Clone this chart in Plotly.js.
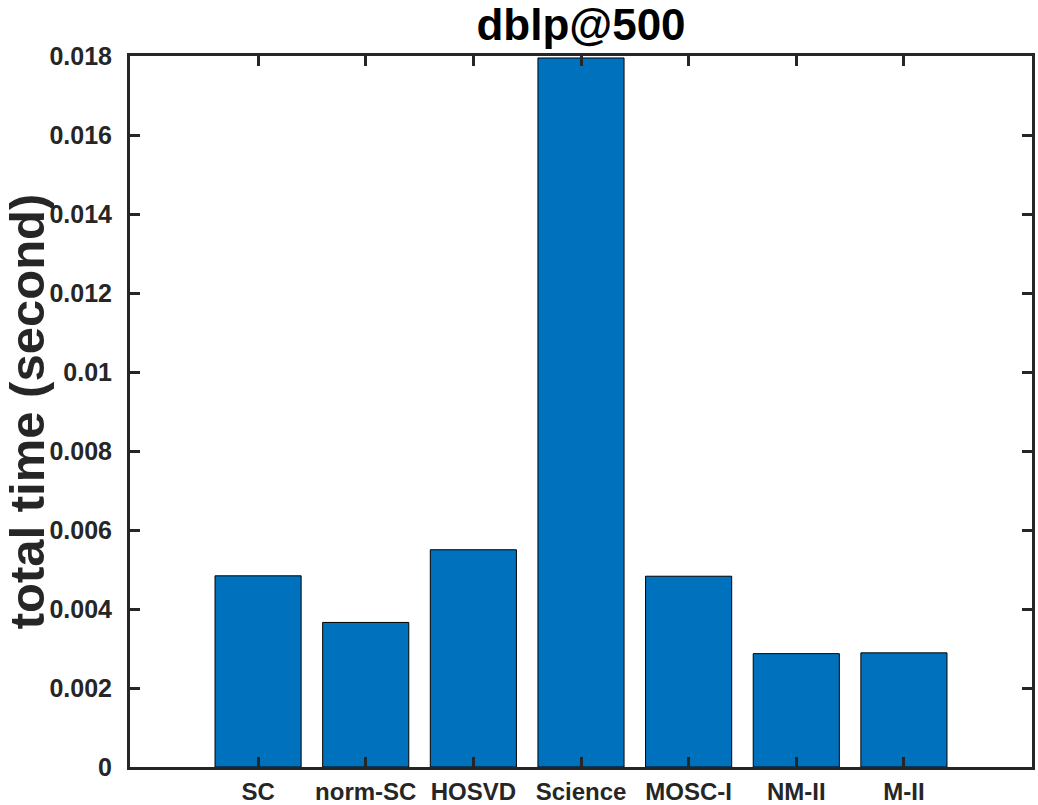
<!DOCTYPE html>
<html>
<head>
<meta charset="utf-8">
<script src="https://cdn.plot.ly/plotly-3.0.1.min.js"></script>
<style>html,body{margin:0;padding:0;background:#fff;}#chart{width:1038px;height:805px;}</style>
</head>
<body>
<div id="chart"></div>
<script>
const categories = ["SC", "norm-SC", "HOSVD", "Science", "MOSC-I", "NM-II", "M-II"];
const totalTime = [0.00484, 0.00366, 0.00550, 0.01795, 0.00483, 0.00287, 0.00289];
const yTickVals = [0, 0.002, 0.004, 0.006, 0.008, 0.01, 0.012, 0.014, 0.016, 0.018];
const yTickText = ["0", "0.002", "0.004", "0.006", "0.008", "0.01", "0.012", "0.014", "0.016", "0.018"];

const FONT = "Liberation Sans, Arial, Helvetica, sans-serif";
const AX = "#262626";

const trace = {
  type: "bar",
  x: categories,
  y: totalTime,
  width: 0.8,
  marker: {color: "#0072BD", line: {color: "#000000", width: 1}},
  hoverinfo: "x+y"
};

const layout = {
  width: 1038, height: 805,
  margin: {l: 130, r: 6, t: 56, b: 38, pad: 0},
  paper_bgcolor: "#ffffff",
  plot_bgcolor: "#ffffff",
  showlegend: false,
  font: {family: FONT, color: AX},
  title: {
    text: "<b>dblp@500</b>",
    font: {family: FONT, size: 44, color: "#000000"},
    xref: "paper", x: 0.5, xanchor: "center",
    yref: "container", y: 1 - 25/805, yanchor: "middle"
  },
  xaxis: {
    type: "category",
    range: [-1.19, 7.19],
    showline: true, linecolor: AX, linewidth: 3, mirror: "ticks",
    ticks: "inside", ticklen: 10, tickwidth: 3, tickcolor: AX,
    showgrid: false, zeroline: false,
    tickfont: {family: FONT, size: 24, color: AX, weight: "bold"},
    ticklabelstandoff: 1
  },
  yaxis: {
    range: [0, 0.018],
    tickmode: "array", tickvals: yTickVals, ticktext: yTickText,
    showline: true, linecolor: AX, linewidth: 3, mirror: "ticks",
    ticks: "inside", ticklen: 10, tickwidth: 3, tickcolor: AX,
    showgrid: false, zeroline: false,
    tickfont: {family: FONT, size: 25, color: AX, weight: "bold"},
    ticklabelstandoff: 10,
    title: {text: "<b>total time (second)</b>", font: {family: FONT, size: 49, color: AX}, standoff: 8}
  }
};

Plotly.newPlot("chart", [trace], layout, {displayModeBar: false, staticPlot: true});
</script>
</body>
</html>
